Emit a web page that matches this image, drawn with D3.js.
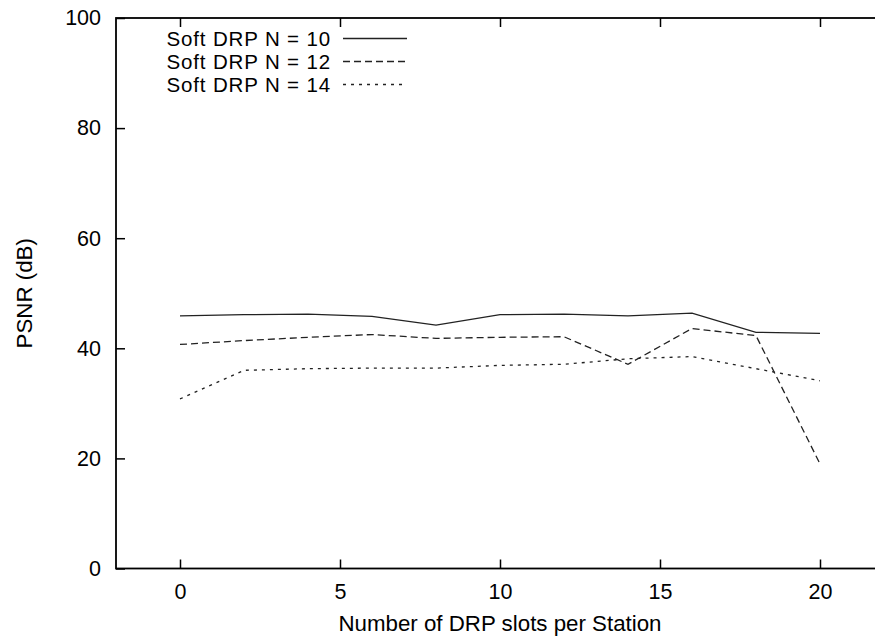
<!DOCTYPE html>
<html>
<head>
<meta charset="utf-8">
<script src="https://cdn.jsdelivr.net/npm/d3@7"></script>
<style>
  html, body { margin: 0; padding: 0; background: #fff; }
  svg { display: block; }
  text { font-family: "Liberation Sans", Arial, Helvetica, sans-serif; font-size: 22.3px; fill: #000; }
</style>
</head>
<body>
<svg id="chart" width="875" height="643"></svg>
<script>
const slots = [0, 2, 4, 6, 8, 10, 12, 14, 16, 18, 20];
const seriesNames = ["Soft DRP N = 10", "Soft DRP N = 12", "Soft DRP N = 14"];
const psnrN10 = [45.9, 46.1, 46.2, 45.8, 44.2, 46.1, 46.2, 45.9, 46.4, 42.9, 42.7];
const psnrN12 = [40.7, 41.4, 42.0, 42.5, 41.8, 42.0, 42.1, 37.1, 43.6, 42.3, 19.0];
const psnrN14 = [30.8, 36.0, 36.3, 36.4, 36.4, 36.9, 37.1, 38.1, 38.5, 36.3, 34.1];
const xTicks = [0, 5, 10, 15, 20];
const yTicks = [0, 20, 40, 60, 80, 100];
const xLabel = "Number of DRP slots per Station";
const yLabel = "PSNR (dB)";

const svg = d3.select("#chart");
const x = d3.scaleLinear().domain([-2, 22]).range([116, 884]);
const y = d3.scaleLinear().domain([0, 100]).range([568.5, 18]);

const dashes = [null, "7,4", "3,5"];
const seriesData = [psnrN10, psnrN12, psnrN14];

// axes (ticks pointing inward)
const gB = svg.append("g").attr("transform", `translate(0,${y(0)})`)
  .call(d3.axisBottom(x).tickValues(xTicks).tickSize(-9).tickPadding(15));
const gT = svg.append("g").attr("transform", `translate(0,${y(100)})`)
  .call(d3.axisTop(x).tickValues(xTicks).tickSize(-9).tickFormat(""));
const gL = svg.append("g").attr("transform", `translate(${x(-2)},0)`)
  .call(d3.axisLeft(y).tickValues(yTicks).tickSize(-9).tickPadding(15));
const gR = svg.append("g").attr("transform", `translate(${x(22)},0)`)
  .call(d3.axisRight(y).tickValues(yTicks).tickSize(-9).tickFormat(""));
[gB, gT, gL, gR].forEach(g => {
  g.select(".domain").remove();
  g.selectAll(".tick line").attr("stroke", "#000").attr("stroke-width", 1.5);
  g.selectAll("text").style("font-size", "21.5px").attr("font-family", null).attr("fill", "#000");
});

// frame
svg.append("rect")
  .attr("x", x(-2)).attr("y", y(100))
  .attr("width", x(22) - x(-2)).attr("height", y(0) - y(100))
  .attr("fill", "none").attr("stroke", "#000").attr("stroke-width", 1.8);

// lines
const line = d3.line().x((d, i) => x(slots[i])).y(d => y(d));
seriesData.forEach((s, k) => {
  svg.append("path").datum(s)
    .attr("d", line)
    .attr("fill", "none")
    .attr("stroke", "#222")
    .attr("stroke-width", 1.3)
    .attr("stroke-dasharray", dashes[k]);
});

// legend
const legY = [38.5, 61.5, 84.5];
seriesNames.forEach((name, k) => {
  svg.append("text").attr("x", 331).attr("y", legY[k] + 7.3)
    .attr("text-anchor", "end")
    .style("font-size", "20.5px")
    .style("letter-spacing", "0.85px")
    .text(name);
  svg.append("line").attr("x1", 343).attr("x2", 407)
    .attr("y1", legY[k]).attr("y2", legY[k])
    .attr("stroke", "#222").attr("stroke-width", 1.3)
    .attr("stroke-dasharray", dashes[k]);
});

// axis titles
svg.append("text").attr("x", (x(-2) + x(22)) / 2).attr("y", 631)
  .attr("text-anchor", "middle").text(xLabel);
svg.append("text")
  .attr("transform", `translate(31.5,${(y(0) + y(100)) / 2}) rotate(-90)`)
  .attr("text-anchor", "middle").text(yLabel);
</script>
</body>
</html>
